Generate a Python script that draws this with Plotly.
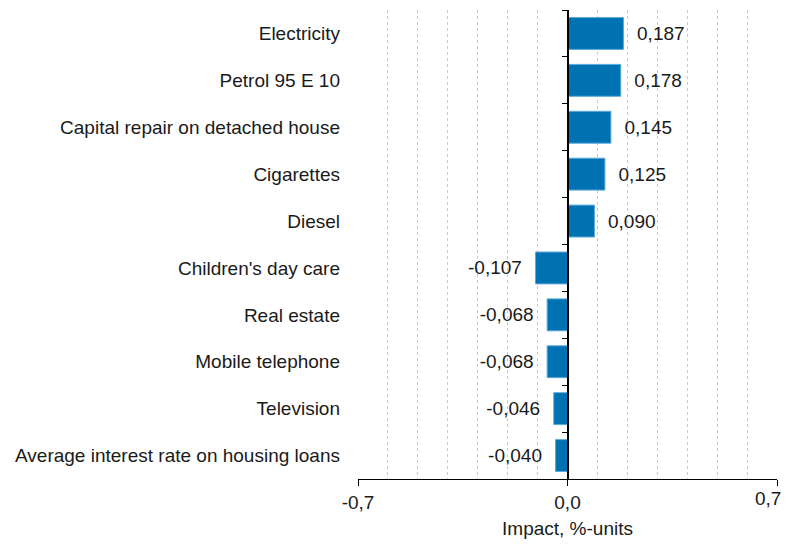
import plotly.graph_objects as go

categories = ["Electricity", "Petrol 95 E 10", "Capital repair on detached house",
              "Cigarettes", "Diesel", "Children's day care", "Real estate",
              "Mobile telephone", "Television", "Average interest rate on housing loans"]
values = [0.187, 0.178, 0.145, 0.125, 0.090, -0.107, -0.068, -0.068, -0.046, -0.040]
x_tickvals = [-0.7, 0.0, 0.7]
x_ticktext = ["-0,7", "0,0", "0,7"]

def fmt(v):
    s = f"{v:.3f}".replace(".", ",")
    return ("  " + s) if v >= 0 else (s + "  ")

labels = [fmt(v) for v in values]

FONT = "Liberation Sans, Arial, sans-serif"
FS = 19
TXT = "#1a1a1a"
BLUE = "#0072B2"

fig = go.Figure()
fig.add_trace(go.Bar(
    x=values, y=categories, orientation="h",
    marker=dict(color=BLUE, line=dict(color="#5aa9dc", width=1)),
    width=0.68,
    text=labels, textposition="outside", cliponaxis=False,
    textfont=dict(family=FONT, size=FS, color=TXT),
    hoverinfo="skip", yaxis="y",
))
fig.add_trace(go.Bar(
    x=[0] * len(values), y=categories, orientation="h",
    marker=dict(color="rgba(0,0,0,0)"), showlegend=False,
    hoverinfo="skip", yaxis="y2",
))

# last tick label drawn as right-anchored text so it stays inside the page
shown_ticktext = x_ticktext[:-1] + [""]
fig.add_annotation(
    x=x_tickvals[-1], xref="x", y=0, yref="paper",
    text=x_ticktext[-1], showarrow=False,
    xanchor="right", yanchor="top", xshift=6, yshift=-7,
    font=dict(family=FONT, size=FS, color=TXT),
)

fig.update_layout(
    template="none",
    width=784, height=531,
    margin=dict(l=350, r=15, t=2, b=60, pad=0, autoexpand=False),
    paper_bgcolor="white", plot_bgcolor="white",
    showlegend=False, barmode="overlay",
    font=dict(family=FONT, size=FS, color=TXT),
    xaxis=dict(
        range=[-0.7, 0.7], tickvals=x_tickvals, ticktext=shown_ticktext,
        showgrid=True, gridcolor="#9a9a9a", gridwidth=1,
        zeroline=False, automargin=False,
        showline=True, linecolor="black", linewidth=1,
        ticks="outside", ticklen=6, tickcolor="black",
        tickfont=dict(family=FONT, size=FS, color=TXT),
        title=dict(text="Impact, %-units", font=dict(family=FONT, size=FS, color=TXT), standoff=10),
        minor=dict(dtick=0.1, tick0=0, showgrid=True, gridcolor="#c8c8c8",
                   griddash="dot", gridwidth=1),
        fixedrange=True,
    ),
    yaxis=dict(
        categoryorder="array", categoryarray=categories, autorange="reversed",
        showgrid=False, zeroline=False, showline=False, ticks="",
        ticklabelstandoff=17, automargin=False,
        tickfont=dict(family=FONT, size=FS, color=TXT),
    ),
    yaxis2=dict(
        overlaying="y", anchor="free", position=0.5, side="left",
        matches="y", showticklabels=False, automargin=False,
        showline=True, linecolor="black", linewidth=1.5,
        ticks="outside", tickson="boundaries", ticklen=5, tickcolor="black",
        showgrid=False, zeroline=False,
    ),
)

fig.write_html("out.html")
